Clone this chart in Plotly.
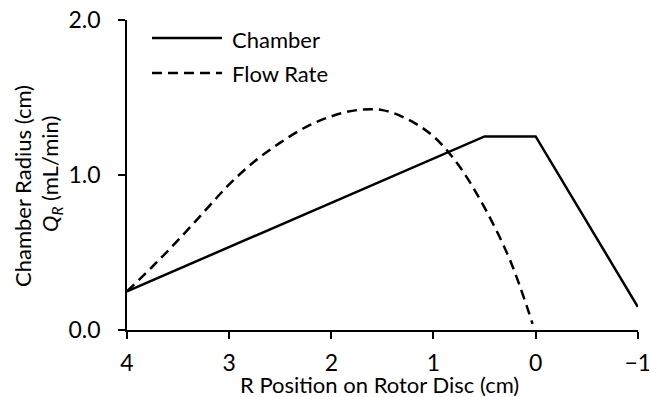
import plotly.graph_objects as go

# Data
chamber_x = [4.0, 0.5, 0.0, -1.0]
chamber_y = [0.25, 1.25, 1.25, 0.15]

flow_x = [4.0, 3.75, 3.5, 3.25, 3.0, 2.75, 2.5, 2.25, 2.0, 1.75, 1.5, 1.25, 1.0, 0.75, 0.5, 0.25, 0.03]
flow_y = [0.25, 0.41, 0.58, 0.76, 0.94, 1.09, 1.21, 1.31, 1.38, 1.42, 1.42, 1.36, 1.25, 1.06, 0.79, 0.45, 0.04]

x_ticks = [4, 3, 2, 1, 0, -1]
x_tick_text = ["4", "3", "2", "1", "0", "\u22121"]
y_ticks = [0, 1, 2]
y_tick_text = ["0.0", "1.0", "2.0"]

FONT = "Lato, Carlito, 'Liberation Sans', sans-serif"
FS = 22
W, H = 649, 397
L, R, T, B = 127, 11, 20, 67
pw, ph = W - L - R, H - T - B

def px_x(p):
    return (p - L) / pw

def px_y(p):
    return (H - B - p) / ph

fig = go.Figure()
fig.add_trace(go.Scatter(x=chamber_x, y=chamber_y, mode="lines", name="Chamber",
                         line=dict(color="black", width=2.5), showlegend=False))
fig.add_trace(go.Scatter(x=flow_x, y=flow_y, mode="lines", name="Flow Rate",
                         line=dict(color="black", width=2.5, dash="10px,6px", shape="spline", smoothing=1.0),
                         showlegend=False))

axis_common = dict(showgrid=False, zeroline=False, showline=True, linecolor="black", linewidth=1.5,
                   ticks="outside", ticklen=7, tickwidth=1.5, tickcolor="black", automargin=False,
                   tickfont=dict(family=FONT, size=FS + 1, color="black"))

fig.update_xaxes(range=[4, -1.002], tickvals=x_ticks, ticktext=x_tick_text, ticklabelstandoff=5,
                 ticklabeloverflow="allow", **axis_common)
fig.update_yaxes(range=[0, 2.002], tickvals=y_ticks, ticktext=y_tick_text, ticklabelstandoff=13, **axis_common)

shapes = [
    dict(type="line", xref="paper", yref="paper", x0=px_x(152), x1=px_x(222), y0=px_y(38), y1=px_y(38),
         line=dict(color="black", width=2.5)),
    dict(type="line", xref="paper", yref="paper", x0=px_x(152), x1=px_x(222), y0=px_y(73), y1=px_y(73),
         line=dict(color="black", width=2.5, dash="10px,6px")),
]

ann_font = dict(family=FONT, size=FS, color="black")
annotations = [
    dict(text="Chamber", xref="paper", yref="paper", x=px_x(230), y=px_y(39), xanchor="left", yanchor="middle",
         showarrow=False, font=ann_font),
    dict(text="Flow Rate", xref="paper", yref="paper", x=px_x(230), y=px_y(73), xanchor="left", yanchor="middle",
         showarrow=False, font=ann_font),
    dict(text="R Position on Rotor Disc (cm)", xref="paper", yref="paper", x=px_x(379), y=px_y(384),
         xanchor="center", yanchor="middle", showarrow=False, font=ann_font),
    dict(text="Chamber Radius (cm)", xref="paper", yref="paper", x=px_x(23), y=px_y(186),
         xanchor="center", yanchor="middle", showarrow=False, textangle=-90, font=ann_font),
    dict(text="<i>Q<sub>R</sub></i> (mL/min)", xref="paper", yref="paper", x=px_x(51), y=px_y(174),
         xanchor="center", yanchor="middle", showarrow=False, textangle=-90, font=ann_font),
]

fig.update_layout(width=W, height=H, margin=dict(l=L, r=R, t=T, b=B, autoexpand=False),
                  paper_bgcolor="white", plot_bgcolor="white",
                  font=dict(family=FONT, size=FS, color="black"),
                  shapes=shapes, annotations=annotations, showlegend=False)

fig.write_html("out.html")
